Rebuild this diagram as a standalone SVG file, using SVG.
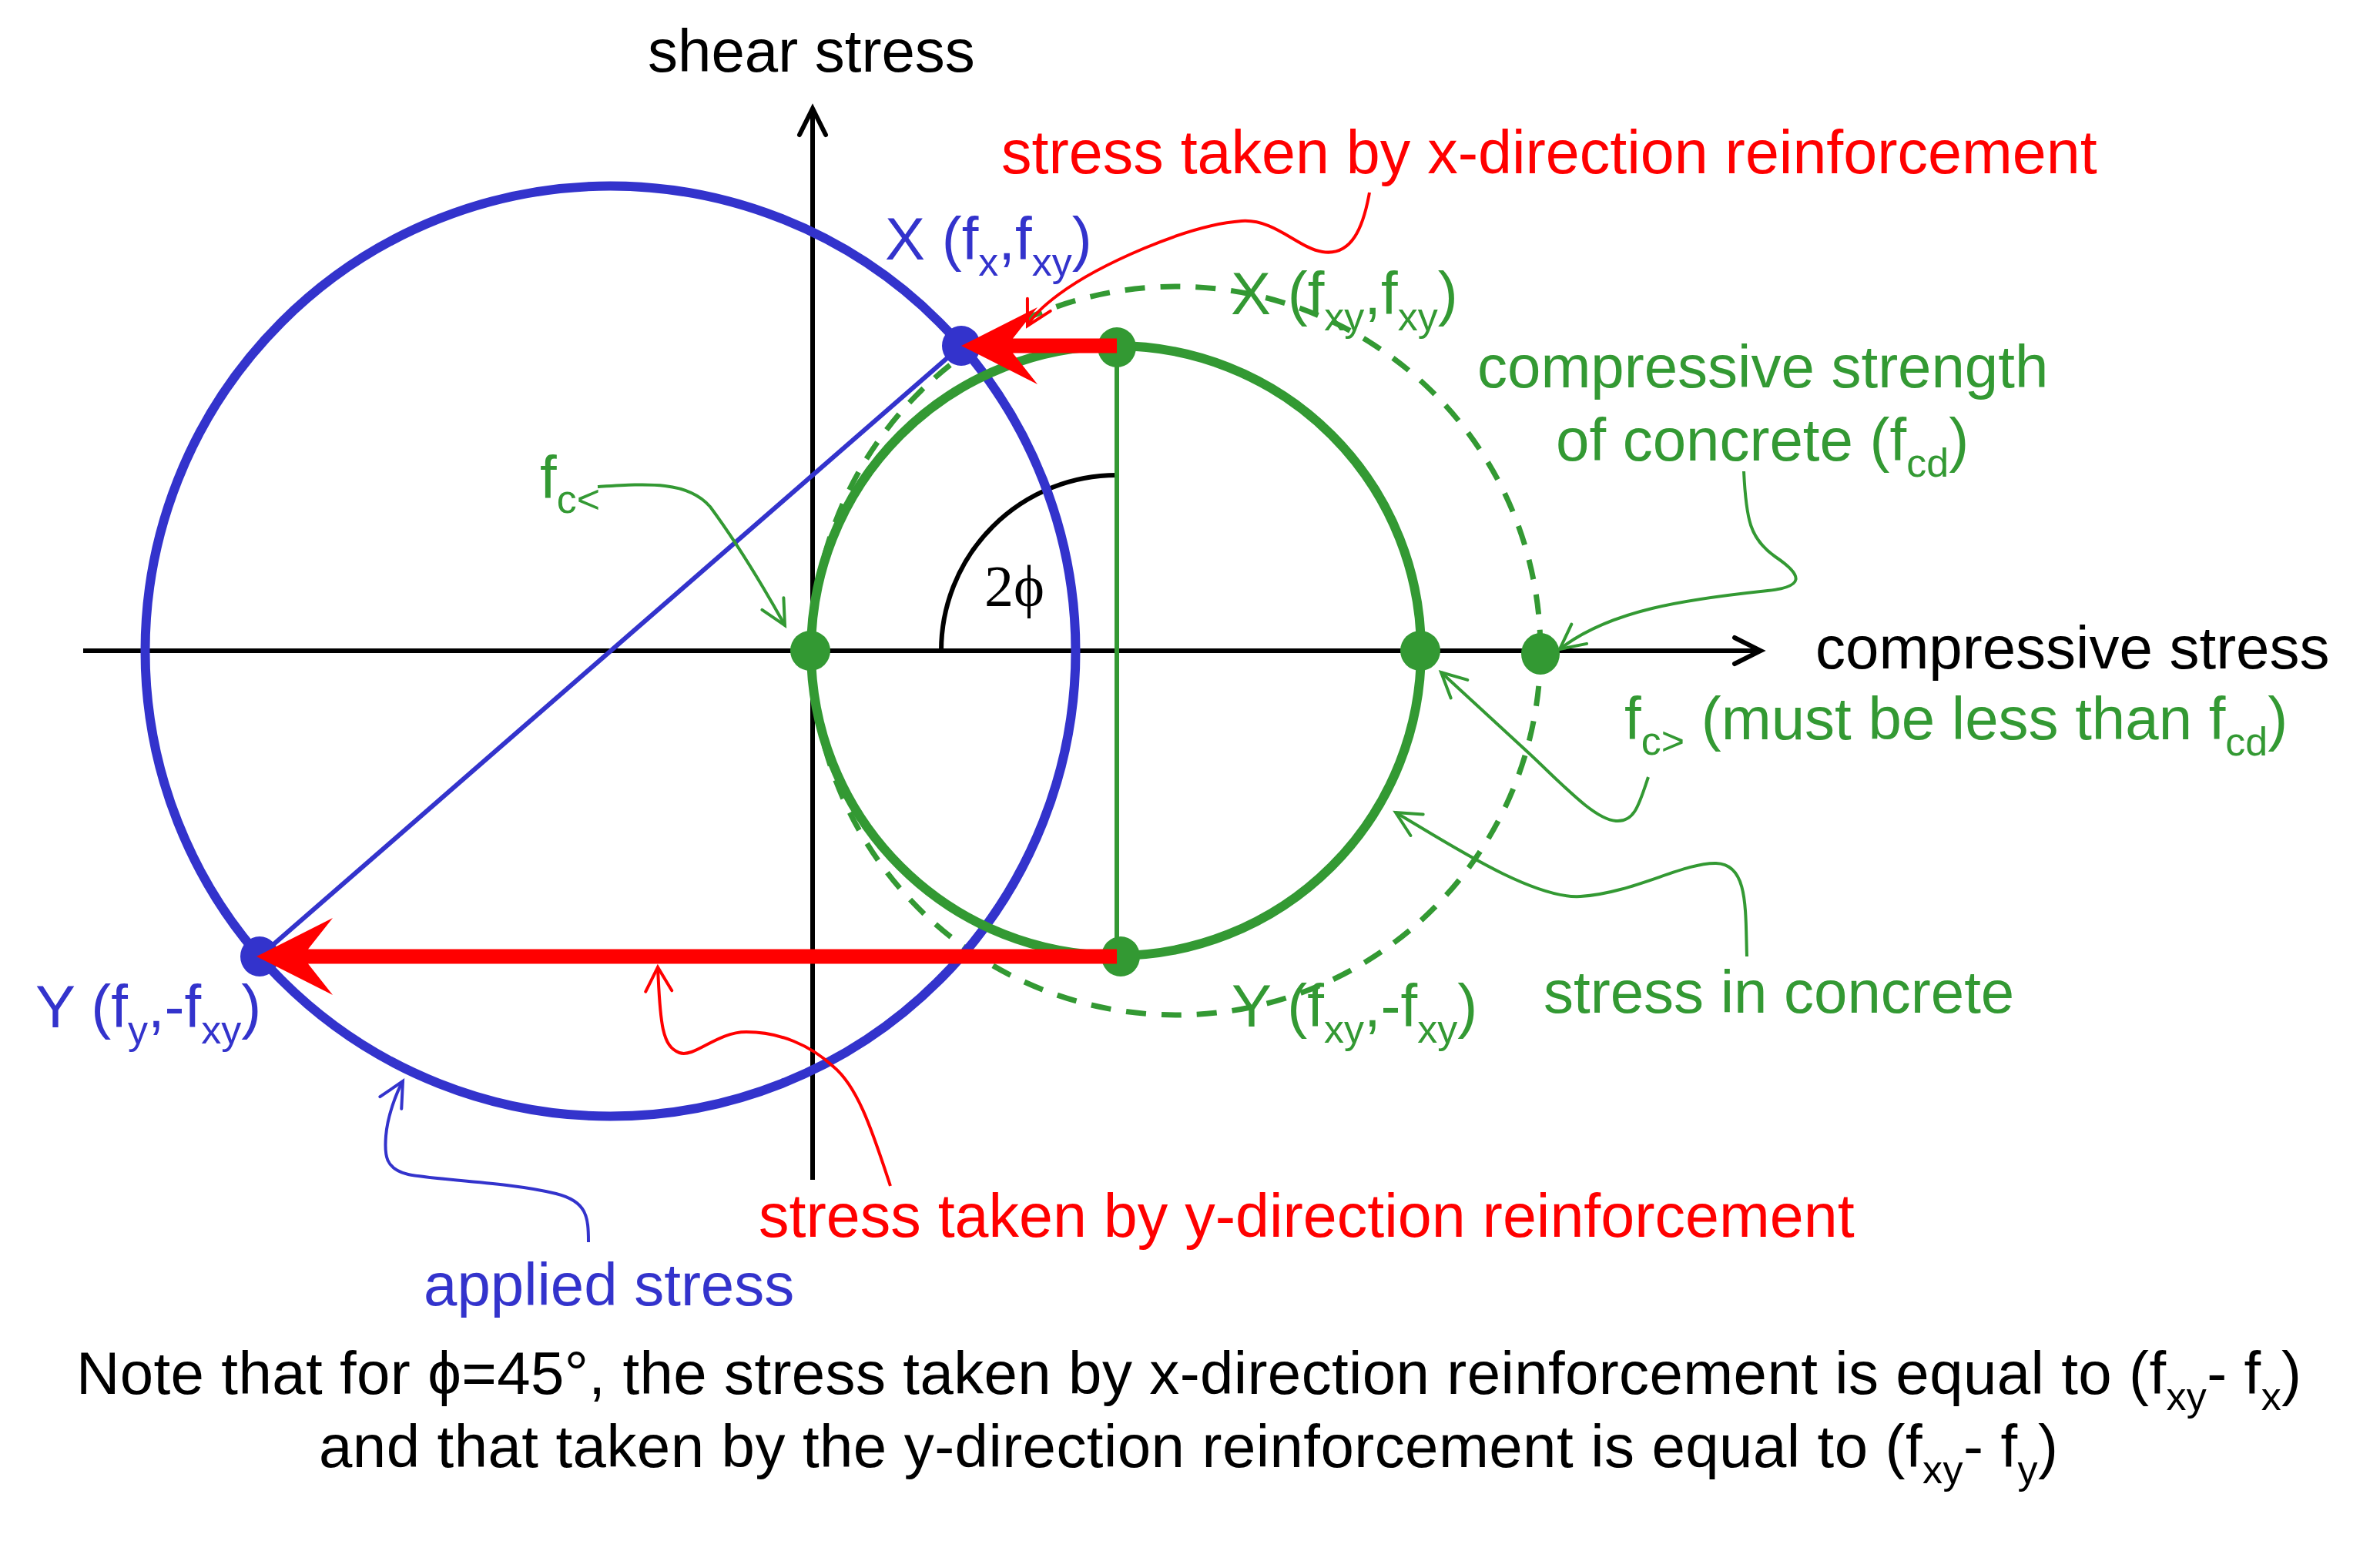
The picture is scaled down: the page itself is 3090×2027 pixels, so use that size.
<svg xmlns="http://www.w3.org/2000/svg" width="3090" height="2027" viewBox="0 0 3090 2027">
<style>
text { font-family: 'Liberation Sans', Arial, sans-serif; font-size: 78px; }
.k { fill: #000000; }
.b { fill: #3333CC; }
.g { fill: #339933; }
.r { fill: #FF0000; font-size: 79px; }
.sub { font-size: 52px; }
.axis { stroke: #000000; stroke-width: 6; fill: none; }
.ld { fill: none; stroke-width: 4; }
.ldr { stroke: #FF0000; }
.ldg { stroke: #339933; }
.ldb { stroke: #3333CC; }
.dotg { fill: #339933; }
.dotb { fill: #3333CC; }
.red { fill: #FF0000; }
</style>
<defs>
<marker id="aK" viewBox="-44 -24 52 48" refX="0" refY="0" markerWidth="52" markerHeight="48" markerUnits="userSpaceOnUse" orient="auto"><path d="M-34,-17 L0,0 L-34,17" fill="none" stroke="#000000" stroke-width="6" stroke-linecap="round"/></marker>
<marker id="aR" viewBox="-40 -22 46 44" refX="0" refY="0" markerWidth="46" markerHeight="44" markerUnits="userSpaceOnUse" orient="auto"><path d="M-31,-17 L0,0 L-31,17" fill="none" stroke="#FF0000" stroke-width="4" stroke-linecap="round"/></marker>
<marker id="aG" viewBox="-40 -22 46 44" refX="0" refY="0" markerWidth="46" markerHeight="44" markerUnits="userSpaceOnUse" orient="auto"><path d="M-32,-16 L0,0 L-32,16" fill="none" stroke="#339933" stroke-width="4" stroke-linecap="round"/></marker>
<marker id="aB" viewBox="-40 -22 46 44" refX="0" refY="0" markerWidth="46" markerHeight="44" markerUnits="userSpaceOnUse" orient="auto"><path d="M-32,-16 L0,0 L-32,16" fill="none" stroke="#3333CC" stroke-width="4" stroke-linecap="round"/></marker>
</defs>
<rect x="0" y="0" width="3090" height="2027" fill="#FFFFFF"/>

<g id="axes">
<line x1="108" y1="845" x2="2286" y2="845" class="axis" marker-end="url(#aK)"/>
<line x1="1055" y1="1532" x2="1055" y2="141" class="axis" marker-end="url(#aK)"/>
<text x="841" y="93" class="k">shear stress</text>
<text x="2357" y="868" class="k">compressive stress</text>
</g>

<g id="angle">
<path d="M1222,845 A228,228 0 0 1 1450,617" fill="none" stroke="#000000" stroke-width="6"/>
<text x="1278" y="787" style="font-family:'Liberation Serif','Times New Roman','DejaVu Serif',serif;font-size:76px" class="k">2ϕ</text>
</g>

<g id="fcd-circle">
<circle cx="1527" cy="845" r="473" fill="none" stroke="#339933" stroke-width="7" stroke-dasharray="26 20"/>
</g>

<g id="applied-circle">
<circle cx="792.5" cy="845.5" r="604" fill="none" stroke="#3333CC" stroke-width="12"/>
<line x1="1248" y1="449" x2="337" y2="1242" stroke="#3333CC" stroke-width="6"/>
</g>

<g id="concrete-circle">
<circle cx="1449" cy="845" r="396" fill="none" stroke="#339933" stroke-width="12"/>
<line x1="1450" y1="449" x2="1450" y2="1242" stroke="#339933" stroke-width="6"/>
</g>

<g id="points">
<ellipse cx="1052" cy="845" rx="26" ry="26" class="dotg"/>
<ellipse cx="1844" cy="845" rx="26" ry="26" class="dotg"/>
<ellipse cx="2000" cy="849" rx="25" ry="27" class="dotg"/>
<ellipse cx="1450" cy="451" rx="25" ry="26" class="dotg"/>
<ellipse cx="1455" cy="1242" rx="25" ry="26" class="dotg"/>
<ellipse cx="1248" cy="449" rx="25" ry="26" class="dotb"/>
<ellipse cx="337" cy="1242" rx="25" ry="26" class="dotb"/>
</g>

<g id="red-arrows">
<path class="red" d="M1248,449 L1347,399 L1315,439.5 L1450,439.5 L1450,458.5 L1315,458.5 L1347,499 Z"/>
<path class="red" d="M333,1242 L432,1192 L400,1232.5 L1450,1232.5 L1450,1251.5 L400,1251.5 L432,1292 Z"/>
</g>

<g id="connectors">
<path class="ld ldr" marker-end="url(#aR)" d="M1778,250 C1770,295 1755,333 1717,327 C1685,322 1655,284 1612,287 C1540,292 1425,345 1375,382 C1352,399 1340,412 1334,423"/>
<path class="ld ldr" marker-end="url(#aR)" d="M1156,1540 C1130,1460 1112,1410 1082,1385 C1052,1357 1012,1340 969,1340 C930,1340 902,1374 882,1367 C860,1359 857,1330 854,1256"/>
<path class="ld ldb" marker-end="url(#aB)" d="M764,1613 C764,1580 762,1560 722,1550 C662,1535 562,1532 530,1525 C500,1518 499,1500 501,1475 C503,1450 514,1420 523,1404"/>
<path class="ld ldg" marker-end="url(#aG)" d="M776,632 C840,628 893,624 922,658 C953,700 990,760 1019,812"/>
<path class="ld ldg" marker-end="url(#aG)" d="M2264,612 C2267,675 2272,700 2305,723 C2342,748 2342,762 2295,767 C2190,778 2090,792 2025,843"/>
<path class="ld ldg" marker-end="url(#aG)" d="M2140,1009 C2128,1045 2122,1068 2098,1066 C2070,1064 2030,1020 1985,978 L1871,873"/>
<path class="ld ldg" marker-end="url(#aG)" d="M2268,1242 C2266,1180 2270,1122 2228,1121 C2185,1120 2120,1160 2052,1164 C1990,1168 1880,1095 1812,1055"/>
</g>

<g id="label-x-applied">
<text x="1149" y="337" class="b">X (f<tspan class="sub" dy="21">x</tspan><tspan dy="-21">,f</tspan><tspan class="sub" dy="21">xy</tspan><tspan dy="-21">)</tspan></text>
</g>
<g id="label-y-applied">
<text x="46" y="1334" class="b">Y (f<tspan class="sub" dy="21">y</tspan><tspan dy="-21">,-f</tspan><tspan class="sub" dy="21">xy</tspan><tspan dy="-21">)</tspan></text>
</g>
<g id="label-x-concrete">
<text x="1598" y="408" class="g">X (f<tspan class="sub" dy="21">xy</tspan><tspan dy="-21">,f</tspan><tspan class="sub" dy="21">xy</tspan><tspan dy="-21">)</tspan></text>
</g>
<g id="label-y-concrete">
<text x="1599" y="1333" class="g">Y (f<tspan class="sub" dy="21">xy</tspan><tspan dy="-21">,-f</tspan><tspan class="sub" dy="21">xy</tspan><tspan dy="-21">)</tspan></text>
</g>
<g id="label-fcd">
<text x="1918" y="503" class="g">compressive strength</text>
<text x="2020" y="598" class="g">of concrete (f<tspan class="sub" dy="21">cd</tspan><tspan dy="-21">)</tspan></text>
</g>
<g id="label-fc-min">
<text x="701" y="647" class="g">f<tspan class="sub" dy="19">c&lt;</tspan></text>
</g>
<g id="label-fc-max">
<text x="2109" y="960" class="g">f<tspan class="sub" dy="20">c&gt;</tspan><tspan dy="-20"> (must be less than f</tspan><tspan class="sub" dy="21">cd</tspan><tspan dy="-21">)</tspan></text>
</g>
<g id="label-stress-concrete">
<text x="2004" y="1315" class="g">stress in concrete</text>
</g>
<g id="label-x-reinf">
<text x="1300" y="225" class="r">stress taken by x-direction reinforcement</text>
</g>
<g id="label-y-reinf">
<text x="985" y="1606" class="r">stress taken by y-direction reinforcement</text>
</g>
<g id="label-applied">
<text x="550" y="1695" class="b">applied stress</text>
</g>
<g id="note">
<text x="99" y="1810" textLength="2889" class="k">Note that for ϕ=45°, the stress taken by x-direction reinforcement is equal to (f<tspan class="sub" dy="21">xy</tspan><tspan dy="-21">- f</tspan><tspan class="sub" dy="21">x</tspan><tspan dy="-21">)</tspan></text>
<text x="414" y="1905" textLength="2258" class="k">and that taken by the y-direction reinforcement is equal to (f<tspan class="sub" dy="21">xy</tspan><tspan dy="-21">- f</tspan><tspan class="sub" dy="21">y</tspan><tspan dy="-21">)</tspan></text>
</g>
</svg>
